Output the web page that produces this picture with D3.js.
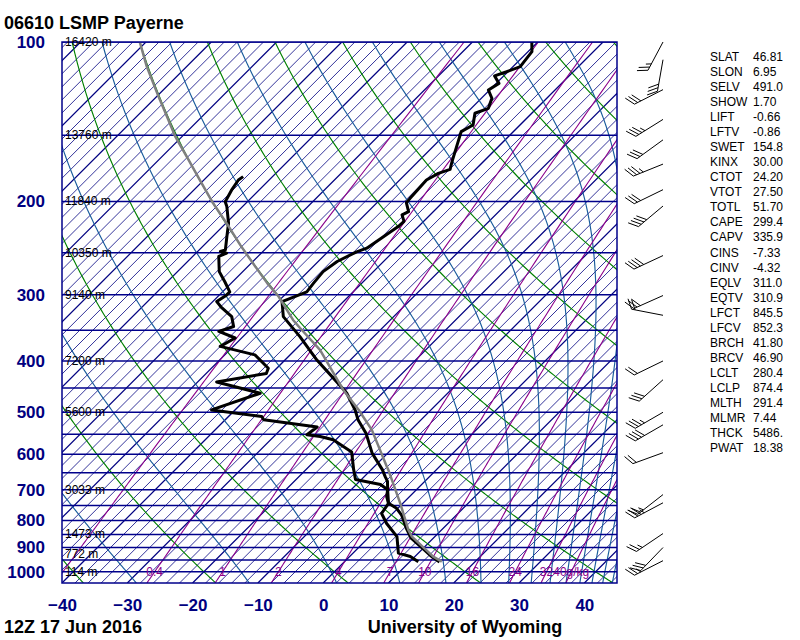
<!DOCTYPE html>
<html><head><meta charset="utf-8">
<script src="https://cdn.jsdelivr.net/npm/d3@7"></script>
<style>
body{margin:0;background:#fff;}
svg{display:block;font-family:"Liberation Sans",Arial,sans-serif;}
</style>
</head><body>
<svg id="c" width="800" height="640"></svg>
<script>
// ---------------- data ----------------
const pressureTicks = [100,200,300,400,500,600,700,800,900,1000];
const isobars = [100,150,200,250,300,350,400,450,500,550,600,650,700,750,800,850,900,950,1000];
const tempTicks = [-40,-30,-20,-10,0,10,20,30,40];
const heightLevels = [100,150,200,250,300,400,500,700,850,925,1000];
const heightLabels = ["16420 m","13760 m","11840 m","10350 m","9140 m","7200 m","5600 m","3033 m","1473 m","772 m","114 m"];
const mixingRatios = [0.1,0.4,1,2,4,7,10,16,24,32,40];
const mixingLabels = ["","0.4","1","2","4","7","10","16","24","32","40g/kg"];
const dryAdiabats = [-40,-20,0,20,40,60,80,100,120,140,160,180];      // theta, degC
const moistAdiabats = [242,262,282,302,322,342,362,382,402,422,442,462,482,502,522]; // theta-e, K

const tempP = [100,104.3,111.3,113.8,115.9,119.7,123.2,127.7,133.4,136.3,143.4,147.6,168.2,174,177,182.2,197.3,201.1,209,212,218.1,223,245,248.9,259.6,271.3,285.2,296.2,309,329.9,359.8,398.5,434.3,459.8,495,517.2,548.5,597,641.5,661.2,675.4,700.3,721.4,742.6,758.9,781.5,828.4,865.3,903.9,935.2,958.2];
const tempT = [-50.9,-49.4,-48.9,-50.2,-51.4,-49.6,-50.2,-48.4,-47.4,-48.7,-47.2,-48.0,-44.8,-43.9,-45.1,-45.9,-45.6,-45.5,-43.8,-44.3,-43.0,-43.1,-44.6,-45.6,-47.1,-47.7,-47.4,-47.1,-49.4,-46.9,-41.3,-35.1,-29.3,-25.5,-21.6,-19.6,-16.3,-12.4,-8.3,-6.8,-5.7,-4.4,-3.5,-2.2,-0.2,1.6,4.4,6.7,10.0,12.5,14.6];

const dewP = [179.5,182.2,190.4,200.2,204.5,219.8,233,246.8,248.6,250.4,254,271.3,283.5,296.2,300.5,309,316.4,329.9,344.4,351.9,362,375.5,389.5,412.8,422.3,438.3,460.3,494.9,509.3,516.6,533.1,551.2,555.3,563.5,594.2,641.4,669.6,684.2,700.3,742.6,776.2,810.6,858.4,922.3,936,957];
const dewT = [-74.5,-74.7,-74.2,-73.4,-72.4,-69.6,-67.8,-66.0,-66.5,-65.3,-66.0,-63.6,-61.2,-58.9,-58.9,-59.4,-57.9,-54.8,-53.0,-54.5,-51.0,-52.0,-45.4,-41.3,-40.8,-47.1,-38.7,-43.6,-34.9,-34.1,-24.8,-25.2,-22.9,-20.4,-15.7,-12.7,-10.9,-6.3,-4.4,-2.2,-1.7,0.6,4.2,6.95,9.3,11.3];

const parcelP = [100.1,111.3,126.8,140.4,150.9,167,182.2,201.6,219.8,241.5,261.7,285.2,302.3,334.7,346.6,381.1,453.6,494.6,539.7,632.9,641.5,742.6,833.3,858.4,936,957];
const parcelT = [-110.9,-106.1,-99.7,-94.6,-91.0,-85.4,-80.6,-75.0,-69.9,-64.5,-59.7,-54.5,-50.7,-44.9,-42.6,-36.2,-26.5,-21.1,-16.0,-8.1,-7.4,-0.4,4.9,6.5,12.8,14.9];

const barbP   = [100,108,123,140,153,170,190,204,253,301,328,400,434,500,528,596,715,741,847,900,953];
const barbDir = [208,190,243,238,234,248,244,230,245,246,281,244,228,240,240,250,232,242,236,224,243];
const barbSpd = [25,30,30,35,30,35,30,40,40,30,20,20,30,35,40,20,25,35,25,30,25];

const statNames = ["SLAT","SLON","SELV","SHOW","LIFT","LFTV","SWET","KINX","CTOT","VTOT","TOTL","CAPE","CAPV","CINS","CINV","EQLV","EQTV","LFCT","LFCV","BRCH","BRCV","LCLT","LCLP","MLTH","MLMR","THCK","PWAT"];
const statValues = ["46.81","6.95","491.0","1.70","-0.66","-0.86","154.8","30.00","24.20","27.50","51.70","299.4","335.9","-7.33","-4.32","311.0","310.9","845.5","852.3","41.80","46.90","280.4","874.4","291.4","7.44","5486.","18.38"];

// ---------------- geometry ----------------
const L = 62, R = 617, T0 = 42, B = 583;
const y = d3.scaleLog().domain([1050, 100]).range([B, T0]);
const x0 = d3.scaleLinear().domain([-40, 45]).range([L, R]);
const X = (t, p) => x0(t) + (B - y(p));

const NAVY = "#00008b";
const svg = d3.select("#c");
svg.append("rect").attr("width",800).attr("height",640).attr("fill","#fff");
svg.append("defs").append("clipPath").attr("id","pc")
  .append("rect").attr("x",L).attr("y",T0).attr("width",R-L).attr("height",B-T0);
const gp = svg.append("g").attr("clip-path","url(#pc)");

const ptLine = d3.line().x(d => X(d.t, d.p)).y(d => y(d.p));
const pGrid = d3.range(1050, 99, -5);

// isotherms
const isoT = d3.range(-124, 46, 2);
gp.append("g").selectAll("line").data(isoT).join("line")
  .attr("x1", t => X(t,1050)).attr("y1", y(1050))
  .attr("x2", t => X(t,100)).attr("y2", y(100))
  .attr("stroke", "#000080")
  .attr("stroke-width", t => t % 10 === 0 ? 1.25 : 0.8);

// dry adiabats
gp.append("g").selectAll("path").data(dryAdiabats).join("path")
  .attr("d", th => ptLine(pGrid.map(p => ({p, t:(th+273.15)*Math.pow(p/1000,0.2857)-273.15}))))
  .attr("fill","none").attr("stroke","#008000").attr("stroke-width",1.15);

// moist adiabats
function es(tc){return 6.112*Math.exp(17.67*tc/(tc+243.5));}
function thetaE(tc,p){const tk=tc+273.15,e=es(tc),w=0.622*e/(p-e);return tk*Math.pow(1000/p,0.2857)*Math.exp(2.5e6*w/(1004*tk));}
function solveT(te,p){
  let hi=60; while(es(hi)>p*0.3) hi-=1;
  let lo=-160;
  if (thetaE(hi,p) < te) return hi+200;
  for(let i=0;i<50;i++){const m=(lo+hi)/2; if(thetaE(m,p)<te) lo=m; else hi=m;}
  return (lo+hi)/2;
}
gp.append("g").selectAll("path").data(moistAdiabats).join("path")
  .attr("d", te => ptLine(pGrid.map(p => ({p, t: solveT(te,p)}))))
  .attr("fill","none").attr("stroke","#1a5c9c").attr("stroke-width",1.15);

// mixing ratio lines
function tdFromW(w,p){const e=w*p/(622+w);const a=Math.log(e/6.112);return 243.5*a/(17.67-a);}
gp.append("g").selectAll("path").data(mixingRatios).join("path")
  .attr("d", w => ptLine(pGrid.map(p => ({p, t: tdFromW(w,p)}))))
  .attr("fill","none").attr("stroke","#8b008b").attr("stroke-width",1.1);

// isobars
gp.append("g").selectAll("line").data(isobars).join("line")
  .attr("x1",L).attr("x2",R).attr("y1",p=>y(p)).attr("y2",p=>y(p))
  .attr("stroke",NAVY).attr("stroke-width",1.5);

// mixing ratio labels
gp.append("g").selectAll("text").data(mixingRatios.map((w,i)=>({w,lab:mixingLabels[i]})).filter(d=>d.lab))
  .join("text")
  .attr("x", d => X(tdFromW(d.w,1000),1000)).attr("y", y(1000)+4)
  .attr("text-anchor","middle").attr("font-size",12).attr("fill","#8b008b")
  .text(d => d.lab);

// soundings
gp.append("path").datum(tempP.map((p,i)=>({p,t:tempT[i]})))
  .attr("d",ptLine).attr("fill","none").attr("stroke","#000").attr("stroke-width",3).attr("stroke-linejoin","round");
gp.append("path").datum(dewP.map((p,i)=>({p,t:dewT[i]})))
  .attr("d",ptLine).attr("fill","none").attr("stroke","#000").attr("stroke-width",3).attr("stroke-linejoin","round");
gp.append("path").datum(parcelP.map((p,i)=>({p,t:parcelT[i]})))
  .attr("d",ptLine).attr("fill","none").attr("stroke","#7f7f7f").attr("stroke-width",2.5).attr("stroke-linejoin","round");

// border
svg.append("rect").attr("x",L).attr("y",T0).attr("width",R-L).attr("height",B-T0)
  .attr("fill","none").attr("stroke",NAVY).attr("stroke-width",1.5);

// height labels
svg.append("g").selectAll("text").data(heightLevels).join("text")
  .attr("x",65).attr("y",p=>y(p)+4).attr("font-size",12).attr("fill","#000")
  .text((p,i)=>heightLabels[i]);

// axes
const ay = svg.append("g").attr("transform",`translate(${L},0)`)
  .call(d3.axisLeft(y).tickValues(pressureTicks).tickSize(0).tickPadding(17).tickFormat(d3.format("d")));
ay.select(".domain").remove();
ay.selectAll("text").attr("font-size",17).attr("font-weight","bold").attr("fill","#000080")
  .attr("font-family","'Liberation Sans',Arial,sans-serif");

const ax = svg.append("g").attr("transform",`translate(0,${B})`)
  .call(d3.axisBottom(x0).tickValues(tempTicks).tickSize(0).tickPadding(16).tickFormat(d3.format("d")));
ax.select(".domain").remove();
ax.selectAll("text").attr("font-size",17).attr("font-weight","bold").attr("fill","#000080")
  .attr("font-family","'Liberation Sans',Arial,sans-serif");

// titles
svg.append("text").attr("x",4).attr("y",29).attr("font-size",18).attr("font-weight","bold").text("06610 LSMP Payerne");
svg.append("text").attr("x",4).attr("y",633).attr("font-size",18).attr("font-weight","bold").text("12Z 17 Jun 2016");
svg.append("text").attr("x",465).attr("y",633).attr("text-anchor","middle").attr("font-size",18).attr("font-weight","bold").text("University of Wyoming");

// stats
const gs = svg.append("g").attr("font-size",12).attr("fill","#000");
gs.selectAll("text.n").data(statNames).join("text").attr("class","n")
  .attr("x",710).attr("y",(d,i)=>61+15.04*i).text(d=>d);
gs.selectAll("text.v").data(statValues).join("text").attr("class","v")
  .attr("x",753).attr("y",(d,i)=>61+15.04*i).text(d=>d);

// wind barbs
const gb = svg.append("g").attr("stroke","#000").attr("stroke-width",1).attr("fill","none");
function barb(sx, sy, dir, spd){
  const Ls=32, FL=11, step=3.6;
  const r = dir*Math.PI/180;
  const ux=Math.sin(r), uy=-Math.cos(r);
  const tx=sx+ux*Ls, ty=sy+uy*Ls;
  const rpx=-uy, rpy=ux;
  let fx=0.87*rpx+0.5*ux, fy=0.87*rpy+0.5*uy; const n0=Math.hypot(fx,fy); fx/=n0; fy/=n0;
  gb.append("line").attr("x1",sx).attr("y1",sy).attr("x2",tx).attr("y2",ty);
  let n=Math.round(spd/5);
  let pen=Math.floor(n/10); n-=pen*10;
  let full=Math.floor(n/2), half=n%2;
  let pos=0;
  for(let k=0;k<pen;k++){
    const bx=tx-ux*pos, by=ty-uy*pos;
    const cx=tx-ux*(pos+step*1.5), cy=ty-uy*(pos+step*1.5);
    gb.append("path").attr("d",`M${bx},${by}L${bx+fx*FL},${by+fy*FL}L${cx},${cy}Z`).attr("fill","#000");
    pos+=step*2;
  }
  for(let k=0;k<full;k++){
    const bx=tx-ux*pos, by=ty-uy*pos;
    gb.append("line").attr("x1",bx).attr("y1",by).attr("x2",bx+fx*FL).attr("y2",by+fy*FL);
    pos+=step;
  }
  if(half){
    if(pos===0) pos=step;
    const bx=tx-ux*pos, by=ty-uy*pos;
    gb.append("line").attr("x1",bx).attr("y1",by).attr("x2",bx+fx*FL/2).attr("y2",by+fy*FL/2);
  }
}
barbP.forEach((p,i)=>barb(663, y(p), barbDir[i], barbSpd[i]));
</script>
</body></html>
